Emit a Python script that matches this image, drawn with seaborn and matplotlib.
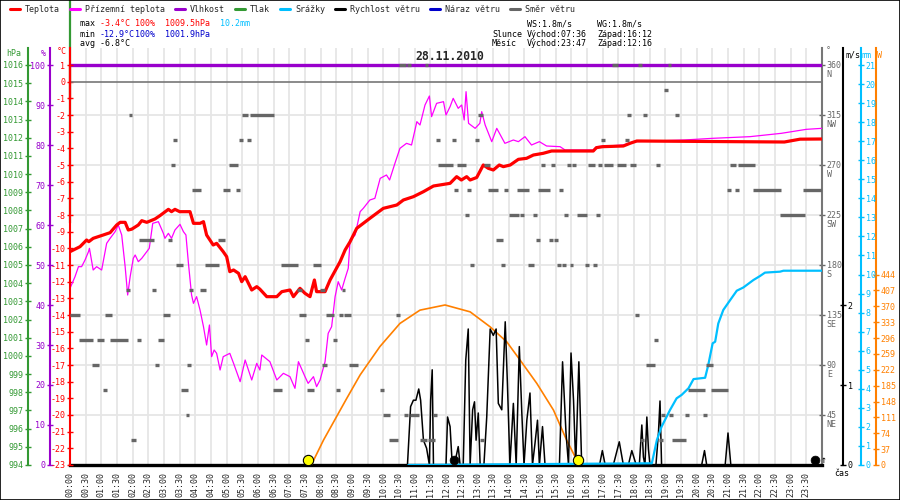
import numpy as np
import pandas as pd
import seaborn as sns
import matplotlib.pyplot as plt
from matplotlib.lines import Line2D
from matplotlib.patches import Rectangle
import matplotlib.transforms as mtransforms

# ---- day summary ----
day_label = "28.11.2010"
t_max, t_min, t_avg = -3.4, -12.9, -6.8
hum_max, hum_min = 100, 100
pres_max, pres_min = 1009.5, 1001.9
rain_total = 10.2
wind_ws, wind_wg = 1.8, 1.8
sun_rise, sun_set = "07:36", "16:12"
moon_rise, moon_set = "23:47", "12:16"

# ---- temperature (°C) ----
temp_h = [0, 0.32, 0.53, 0.6, 0.74, 1.06, 1.28, 1.49, 1.6, 1.76,
          1.86, 1.97, 2.18, 2.29, 2.45, 2.71, 2.87, 3.14, 3.24, 3.35,
          3.5, 3.83, 3.94, 4.15, 4.26, 4.36, 4.57, 4.68, 4.89, 5.0,
          5.1, 5.22, 5.38, 5.48, 5.59, 5.8, 5.96, 6.06, 6.28, 6.6,
          6.76, 7.02, 7.13, 7.34, 7.5, 7.66, 7.8, 7.87, 8.14, 8.3,
          8.62, 8.78, 8.94, 9.15, 9.57, 10.0, 10.43, 10.64, 10.96, 11.28,
          11.6, 12.13, 12.34, 12.49, 12.66, 12.77, 12.98, 13.19, 13.35, 13.51,
          13.7, 13.83, 14.05, 14.31, 14.57, 14.79, 15.1, 15.37, 16.7, 16.8,
          17.0, 17.66, 17.87, 18.09, 22.8, 23.3, 24.0]
temp_c = [-10.2, -9.9, -9.5, -9.6, -9.4, -9.2, -9.06, -8.6, -8.44, -8.44,
          -8.9, -8.85, -8.6, -8.34, -8.44, -8.24, -8.04, -7.66, -7.8, -7.66,
          -7.8, -7.8, -8.5, -8.5, -8.4, -9.2, -9.8, -9.7, -10.2, -10.5,
          -11.4, -11.3, -11.5, -12.0, -11.7, -12.5, -12.3, -12.45, -12.9, -12.9,
          -12.6, -12.5, -12.9, -12.4, -12.7, -12.9, -11.9, -12.6, -12.6, -11.9,
          -10.8, -10.1, -9.6, -8.8, -8.2, -7.6, -7.4, -7.1, -6.9, -6.6,
          -6.26, -6.1, -5.7, -5.9, -5.7, -5.9, -5.75, -5.0, -5.2, -5.3,
          -5.0, -5.1, -5.0, -4.66, -4.6, -4.4, -4.3, -4.16, -4.16, -3.96,
          -3.9, -3.86, -3.7, -3.56, -3.62, -3.45, -3.44]

# ---- ground temperature (°C) ----
ground_h = [0, 0.16, 0.27, 0.37, 0.48, 0.59, 0.62, 0.74, 0.85, 1.01,
            1.17, 1.28, 1.44, 1.54, 1.65, 1.76, 1.84, 1.92, 2.02, 2.08,
            2.18, 2.29, 2.45, 2.53, 2.64, 2.82, 2.98, 3.03, 3.14, 3.24,
            3.35, 3.51, 3.62, 3.7, 3.78, 3.88, 3.94, 4.04, 4.15, 4.26,
            4.36, 4.45, 4.52, 4.6, 4.68, 4.79, 4.89, 5.1, 5.22, 5.43,
            5.59, 5.8, 5.96, 6.06, 6.12, 6.38, 6.6, 6.81, 7.02, 7.18,
            7.29, 7.5, 7.6, 7.77, 7.87, 7.98, 8.14, 8.24, 8.35, 8.46,
            8.56, 8.67, 8.78, 8.88, 8.94, 9.1, 9.26, 9.36, 9.57, 9.73,
            9.9, 10.1, 10.2, 10.37, 10.53, 10.74, 10.9, 11.07, 11.17, 11.33,
            11.47, 11.54, 11.7, 11.92, 12.0, 12.13, 12.23, 12.39, 12.5, 12.58,
            12.64, 12.72, 12.93, 13.08, 13.14, 13.25, 13.46, 13.62, 13.88, 14.15,
            14.31, 14.52, 14.73, 14.98, 15.21, 15.64, 15.8, 16.7, 16.8, 17.66,
            18.0, 19.6, 20.5, 21.7, 22.7, 23.5, 24.0]
ground_c = [-12.4, -11.7, -11.1, -11.1, -10.7, -10.2, -10.0, -11.3, -11.1, -11.3,
            -9.7, -9.4, -9.0, -8.6, -9.2, -11.1, -12.8, -11.7, -10.6, -10.4,
            -10.8, -10.6, -10.2, -10.0, -8.5, -8.4, -9.1, -9.4, -9.1, -9.4,
            -8.9, -8.56, -9.0, -9.2, -10.9, -12.8, -13.3, -12.9, -13.7, -14.7,
            -15.8, -14.6, -16.5, -16.1, -16.3, -17.3, -16.5, -16.3, -16.9, -18.0,
            -16.7, -17.9, -16.9, -17.3, -16.4, -16.8, -17.9, -17.5, -17.7, -18.4,
            -16.8, -17.7, -18.1, -17.7, -18.3, -17.9, -16.8, -15.1, -14.7, -12.9,
            -12.0, -12.5, -11.8, -11.2, -9.5, -9.2, -7.8, -7.6, -7.1, -7.0,
            -5.8, -5.6, -5.9, -4.9, -4.0, -3.7, -3.8, -2.4, -2.6, -1.4,
            -0.86, -2.1, -1.3, -1.2, -2.0, -1.5, -1.0, -1.6, -1.4, -2.3,
            -0.6, -2.5, -2.8, -2.5, -1.8, -2.6, -3.6, -2.8, -3.7, -3.5,
            -3.6, -3.3, -3.8, -3.6, -3.86, -3.9, -4.1, -4.1, -3.9, -3.8,
            -3.6, -3.5, -3.4, -3.3, -3.1, -2.86, -2.8]

# ---- humidity (%) ----
hum_h = [0, 24]
hum_pct = [100, 100]

# ---- pressure: only the stray stroke at the left edge is drawn (hPa) ----
pres_edge_h = [0, 0]
pres_edge_hpa = [1007.3, 1019.6]
temp_edge_h = [0, 0]
temp_edge_c = [1.0, -1.1]

# ---- solar radiation (W) ----
sol_h = [7.7, 8.09, 8.83, 9.26, 9.89, 10.53, 11.17, 11.97, 12.77, 13.41,
         13.94, 14.36, 14.9, 15.43, 15.85, 16.17, 16.25]
sol_w = [0, 58, 155, 210, 276, 330, 361, 373, 357, 322,
         287, 245, 190, 128, 58, 12, 0]

# ---- cumulative rain (mm) ----
rain_h = [10.8, 18.57, 18.73, 18.88, 19.15, 19.36, 19.52, 19.74, 19.9, 20.27,
          20.37, 20.51, 20.59, 20.69, 20.85, 21.07, 21.28, 21.49, 21.81, 22.02,
          22.18, 22.66, 22.77, 24.0]
rain_mm = [0, 0.09, 1.31, 2.01, 2.89, 3.5, 3.68, 4.03, 4.51, 4.58,
           5.25, 6.39, 6.47, 7.43, 8.14, 8.66, 9.15, 9.32, 9.71, 9.92,
           10.1, 10.15, 10.2, 10.2]

# ---- wind speed (m/s) ----
ws_h = [10.77, 10.87, 10.96, 11.04, 11.13, 11.19, 11.28, 11.38, 11.47, 11.51,
        11.56, 11.6, 12.0, 12.05, 12.13, 12.2, 12.32, 12.39, 12.45, 12.55,
        12.63, 12.71, 12.77, 12.85, 12.91, 12.96, 13.03, 13.09, 13.21, 13.3,
        13.41, 13.51, 13.6, 13.67, 13.78, 13.89, 13.96, 14.04, 14.15, 14.24,
        14.34, 14.42, 14.49, 14.58, 14.68, 14.76, 14.84, 14.92, 14.98, 15.08,
        15.16, 15.62, 15.72, 15.83, 15.91, 15.99, 16.07, 16.14, 16.24, 16.33,
        16.9, 16.99, 17.08, 17.34, 17.53, 17.66, 17.82, 17.93, 18.07, 18.17,
        18.25, 18.3, 18.35, 18.41, 18.46, 18.51, 18.7, 18.78, 18.83, 18.88,
        20.16, 20.25, 20.32, 20.91, 21.0, 21.09]
ws_ms = [0, 0.73, 0.81, 0.81, 0.95, 0.81, 0.31, 0.21, 0, 0.81,
         1.19, 0, 0, 0.6, 0.48, 0, 0.1, 0.23, 0, 0,
         1.31, 1.7, 0, 0.69, 0.79, 0.31, 0.65, 0, 0, 0.6,
         1.7, 1.62, 1.7, 0.77, 0.69, 1.79, 1.02, 0, 0.77, 0,
         1.48, 0.65, 0, 0.56, 0.9, 0, 0.27, 0.56, 0, 0.48,
         0, 0, 1.29, 0.4, 0, 1.4, 0.81, 0, 1.29, 0,
         0, 0.18, 0, 0, 0.29, 0, 0, 0.18, 0, 0,
         0.5, 0.1, 0, 0.6, 0.2, 0, 0, 0.4, 0.8, 0,
         0, 0.18, 0, 0, 0.4, 0]

# ---- wind direction: (from h, to h) per compass point ----
dir_N = [(10.51, 10.72), (10.77, 10.87), (11.33, 11.44), (17.29, 17.48), (18.14, 18.24), (19.07, 19.17)]
dir_NNW = [(18.96, 19.09)]
dir_NW = [(1.88, 1.97), (5.49, 5.67), (5.74, 6.5), (13.03, 13.17), (17.78, 17.9), (18.29, 18.42), (19.31, 19.44)]
dir_WNW = [(3.3, 3.4), (5.39, 5.51), (5.66, 5.77), (11.68, 11.81), (12.19, 12.32), (12.93, 13.05), (16.95, 17.08),
           (17.71, 17.84)]
dir_W = [(3.22, 3.35), (5.08, 5.35), (11.76, 12.22), (12.36, 12.64), (13.21, 13.4), (15.03, 15.16), (15.35, 15.48),
         (15.86, 15.99), (16.02, 16.15), (16.53, 16.76), (16.85, 16.98), (17.04, 17.33), (17.46, 17.75),
         (17.87, 18.07), (18.7, 18.83), (21.07, 21.26), (21.32, 21.86)]
dir_WSW = [(3.9, 4.17), (4.89, 5.1), (5.3, 5.43), (12.26, 12.38), (12.67, 12.8), (13.34, 13.66), (13.85, 13.98),
           (14.27, 14.65), (14.94, 15.32), (15.61, 15.74), (20.97, 21.1), (21.22, 21.35), (21.8, 22.69), (23.4, 24.0)]
dir_SW = [(12.61, 12.74), (14.01, 14.33), (14.36, 14.49), (14.78, 14.9), (15.77, 15.9), (16.18, 16.5),
          (16.79, 16.92), (22.66, 23.46)]
dir_SSW = [(2.2, 2.67), (3.14, 3.26), (4.72, 4.95), (13.6, 13.82), (14.87, 15.0), (15.29, 15.42), (15.45, 15.58)]
dir_S = [(3.38, 3.61), (4.31, 4.75), (6.74, 7.27), (7.77, 8.0), (12.77, 12.89), (13.76, 13.88), (14.62, 14.81),
         (15.54, 15.67), (15.7, 15.83), (15.96, 16.05), (16.44, 16.57), (16.69, 16.82)]
dir_SSE = [(1.79, 1.9), (2.62, 2.74), (3.8, 3.93), (4.15, 4.34), (7.26, 7.4), (7.98, 8.15), (8.67, 8.78)]
dir_SE = [(0.0, 0.32), (1.12, 1.35), (2.97, 3.19), (7.31, 7.53), (8.17, 8.43), (8.58, 8.7), (8.75, 8.97),
          (10.4, 10.53), (18.03, 18.16)]
dir_ESE = [(0.29, 0.73), (0.86, 1.09), (1.28, 1.85), (2.14, 2.27), (2.81, 3.0), (7.5, 7.63), (8.38, 8.51),
           (18.64, 18.77)]
dir_E = [(0.7, 0.93), (2.71, 2.84), (3.73, 3.86), (8.04, 8.19), (8.89, 9.19), (18.38, 18.67), (20.3, 20.52)]
dir_ENE = [(1.05, 1.17), (3.53, 3.77), (6.47, 6.77), (7.56, 7.79), (8.49, 8.62), (9.89, 10.02), (19.72, 20.27),
           (20.46, 21.0)]
dir_NE = [(3.7, 3.8), (9.99, 10.21), (10.66, 10.79), (10.85, 11.14), (11.59, 11.71), (18.86, 18.99),
          (19.12, 19.25), (19.63, 19.76), (20.2, 20.33)]
dir_NNE = [(1.95, 2.1), (10.18, 10.47), (11.17, 11.39), (11.43, 11.65), (13.09, 13.21), (18.19, 18.32),
           (18.8, 18.93), (19.21, 19.66)]

compass_deg = {"N": 360, "NNW": 337.5, "NW": 315, "WNW": 292.5, "W": 270, "WSW": 247.5, "SW": 225,
               "SSW": 202.5, "S": 180, "SSE": 157.5, "SE": 135, "ESE": 112.5, "E": 90, "ENE": 67.5,
               "NE": 45, "NNE": 22.5}
dir_runs = {"N": dir_N, "NNW": dir_NNW, "NW": dir_NW, "WNW": dir_WNW, "W": dir_W, "WSW": dir_WSW,
            "SW": dir_SW, "SSW": dir_SSW, "S": dir_S, "SSE": dir_SSE, "SE": dir_SE, "ESE": dir_ESE,
            "E": dir_E, "ENE": dir_ENE, "NE": dir_NE, "NNE": dir_NNE}

# axis ticks
dir_ticks = [45, 90, 135, 180, 225, 270, 315, 360]
dir_names = ["NE", "E", "SE", "S", "SW", "W", "NW", "N"]

legend_items = [("Teplota", "#ff0000"), ("Přízemní teplota", "#ff00ff"), ("Vlhkost", "#9900cc"),
                ("Tlak", "#339933"), ("Srážky", "#00bfff"), ("Rychlost větru", "#000000"),
                ("Náraz větru", "#0000cc"), ("Směr větru", "#666666")]

RED, MAG, PUR, GRN, CYA, BLU, GRY, ORA = "#ff0000", "#ff00ff", "#9900cc", "#339933", "#00bfff", "#0000cc", "#666666", "#ff8000"


def to_hours(hhmm):
    hh, mm = hhmm.split(":")
    return int(hh) + int(mm) / 60


sns.set_theme(style="white")
plt.rcParams['font.family'] = ['DejaVu Sans Mono', 'DejaVu Sans']
FS = 6.0

W_PX, H_PX = 900, 500
PL, PR, PB, PT = 70, 822, 465, 48
TOP_TICK = 65


def fx(x):
    return x / W_PX


def fy(y):
    return 1 - y / H_PX


def lim(lo, hi):
    # hi sits on the top tick row, the plot runs a bit above it
    return lo, hi + (hi - lo) * (TOP_TICK - PT) / (PB - TOP_TICK)


def apos(px):
    return (px - PL) / (PR - PL)


fig = plt.figure(figsize=(9, 5), dpi=100)
ax = fig.add_axes([fx(PL), fy(PB), fx(PR) - fx(PL), fy(PT) - fy(PB)])

# base axes: grid, time axis and wind-direction scale
ax.set_xlim(0, 24)
ax.set_ylim(*lim(0, 360))
xt = np.arange(0, 24, 0.5)
ax.set_xticks(xt)
ax.set_xticklabels([f"{int(h):02d}:{int(round(h % 1 * 60)):02d}" for h in xt], rotation=90)
ax.tick_params(axis='x', direction='out', length=3, width=1, color='black', labelsize=FS, pad=2)
ax.set_yticks(dir_ticks)
ax.grid(True, color='#e6e6e6', lw=1.3)
ax.set_axisbelow(True)
for s in ['left', 'top']:
    ax.spines[s].set_visible(False)
ax.spines['right'].set_color('#777777')
ax.spines['right'].set_linewidth(1.5)
ax.spines['bottom'].set_color('black')
ax.spines['bottom'].set_linewidth(2.4)


def side_axis(side, px, color, lo, hi, ticks):
    a = ax.twinx()
    a.set_ylim(*lim(lo, hi))
    for s in a.spines.values():
        s.set_visible(False)
    sp = a.spines[side]
    sp.set_visible(True)
    sp.set_position(('axes', apos(px)))
    sp.set_color(color)
    sp.set_linewidth(1.5)
    if side == 'left':
        a.yaxis.tick_left()
    else:
        a.yaxis.tick_right()
    a.set_yticks(ticks)
    a.set_yticklabels([str(t) for t in ticks])
    a.tick_params(axis='y', direction='inout', length=5, width=1, colors=color, labelsize=FS, pad=1)
    a.grid(False)
    return a


ax_p = side_axis('left', 28, GRN, 994, 1016, list(range(994, 1017)))
ax_h = side_axis('left', 50, PUR, 0, 100, list(range(0, 101, 10)))
ax_t = side_axis('left', PL, RED, -23, 1, list(range(-23, 2)))
ax_w = side_axis('right', 876, ORA, 0, 444 * 21 / 10, list(range(0, 445, 37)))
ax_s = side_axis('right', 843, 'black', 0, 5, [0, 1, 2])
ax_r = side_axis('right', 861, CYA, 0, 21, list(range(0, 22)))
ax_d = ax.twinx()
ax_d.set_ylim(*lim(0, 360))
ax_d.axis('off')

# twinx moved the base ticks to the left: put the direction scale back on the right
ax.yaxis.tick_right()
ax.set_yticks(dir_ticks)
ax.set_yticklabels([f"{d}\n{n}" for d, n in zip(dir_ticks, dir_names)])
ax.tick_params(axis='y', direction='inout', length=5, width=1, colors=GRY, labelsize=FS, pad=1,
               left=False, labelleft=False, right=True, labelright=True)
for t in ax.yaxis.get_major_ticks():
    t.label2.set_verticalalignment('top')
    t.label2.set_linespacing(1.0)
    t.label2.set_transform(t.label2.get_transform()
                           + mtransforms.ScaledTranslation(0, 4 / 100, fig.dpi_scale_trans))

# pressure stroke at the left edge
sns.lineplot(x=pres_edge_h, y=pres_edge_hpa, ax=ax_p, color=GRN, linewidth=1.6, estimator=None, sort=False)
ax_p.lines[-1].set_clip_on(False)

sns.lineplot(x=hum_h, y=hum_pct, ax=ax_h, color=PUR, linewidth=2.4, estimator=None, sort=False)

ax_t.axhline(0, color='#777777', lw=1.2)
sns.lineplot(x=ground_h, y=ground_c, ax=ax_t, color=MAG, linewidth=0.9, estimator=None, sort=False)
sns.lineplot(x=temp_h, y=temp_c, ax=ax_t, color=RED, linewidth=2.3, estimator=None, sort=False)
sns.lineplot(x=temp_edge_h, y=temp_edge_c, ax=ax_t, color=RED, linewidth=1.6, estimator=None, sort=False)
ax_t.lines[-1].set_clip_on(False)

sns.lineplot(x=sol_h, y=sol_w, ax=ax_w, color=ORA, linewidth=1.2, estimator=None, sort=False)
sns.lineplot(x=ws_h, y=ws_ms, ax=ax_s, color='black', linewidth=1.1, estimator=None, sort=False)
sns.lineplot(x=rain_h, y=rain_mm, ax=ax_r, color=CYA, linewidth=1.6, estimator=None, sort=False)

# wind direction dashes
rows = []
for name, runs in dir_runs.items():
    for a, b in runs:
        rows.append({"start": a, "end": b, "deg": compass_deg[name]})
dir_df = pd.DataFrame(rows)
ax_d.hlines(dir_df["deg"], dir_df["start"], dir_df["end"], color=GRY, lw=2.4)

# sun / moon markers
ev_y = 4.5
sns.scatterplot(x=[to_hours(sun_rise), to_hours(sun_set)], y=[ev_y, ev_y], ax=ax_d, color='#ffff00',
                edgecolor='black', linewidth=0.8, s=55, zorder=6, clip_on=False, legend=False)
sns.scatterplot(x=[to_hours(moon_set), to_hours(moon_rise)], y=[ev_y, ev_y], ax=ax_d, color='black',
                edgecolor='black', s=40, zorder=6, clip_on=False, legend=False)
ax_d.text(to_hours(moon_rise) + 0.18, ev_y, "↑", fontsize=7, ha='left', va='center', color='black')

# title
fig.text(fx(450), fy(57), day_label, fontsize=8.3, fontweight='bold', ha='center', va='center')

# legend row
CH = 5.0
x = 10
for name, col in legend_items:
    fig.add_artist(Line2D([fx(x), fx(x + 10)], [fy(9), fy(9)], color=col, lw=2.2))
    fig.text(fx(x + 15), fy(9), name, fontsize=FS, ha='left', va='center')
    x += 15 + len(name) * CH + 10


def put_run(x0, y0, pieces):
    for s, c in pieces:
        fig.text(fx(x0), fy(y0), s, color=c, fontsize=FS, ha='left', va='center')
        x0 += len(s) * CH


put_run(80, 24, [("max ", "black"), (f"{t_max:.1f}°C ", RED), (f"{hum_max}%  ", RED),
                 (f"{pres_max:.1f}hPa  ", RED), (f"{rain_total:.1f}mm", CYA)])
put_run(80, 34, [("min ", "black"), (f"{t_min:.1f}°C", BLU), (f"{hum_min}%  ", BLU),
                 (f"{pres_min:.1f}hPa", BLU)])
put_run(80, 44, [(f"avg {t_avg:.1f}°C", "black")])

put_run(527, 24, [(f"WS:{wind_ws:.1f}m/s", "black")])
put_run(597, 24, [(f"WG:{wind_wg:.1f}m/s", "black")])
put_run(492, 34, [("Slunce", "black")])
put_run(527, 34, [(f"Východ:{sun_rise}", "black")])
put_run(597, 34, [(f"Západ:{sun_set}", "black")])
put_run(492, 44, [("Měsíc", "black")])
put_run(527, 44, [(f"Východ:{moon_rise}", "black")])
put_run(597, 44, [(f"Západ:{moon_set}", "black")])

# unit headers
for txt, px, py, col in [("hPa", 6, 53, GRN), ("%", 41, 53, PUR), ("°C", 57, 51, RED),
                         ("°", 826, 51, GRY), ("m/s", 845, 55, "black"), ("mm", 862, 55, CYA),
                         ("W", 877, 55, ORA), ("čas", 834, 474, "black")]:
    fig.text(fx(px), fy(py), txt, color=col, fontsize=FS, ha='left', va='center')

fig.add_artist(Rectangle((0, 0), 1, 1, transform=fig.transFigure, fill=False, edgecolor='black', lw=1.2))

fig.savefig("out.png", dpi=100)
